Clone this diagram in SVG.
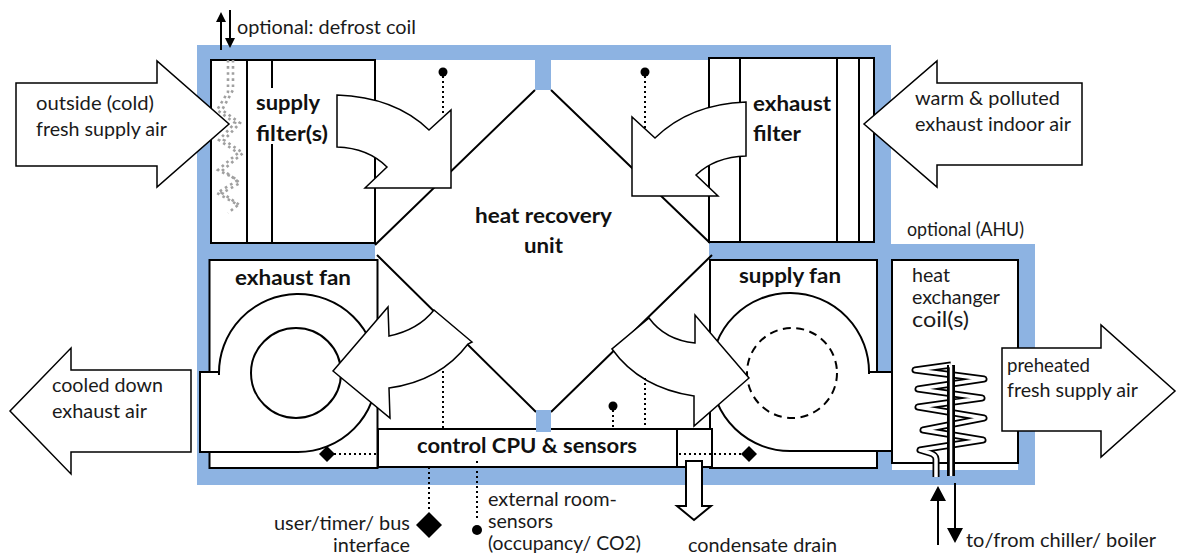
<svg xmlns="http://www.w3.org/2000/svg" width="1183" height="556" viewBox="0 0 1183 556">
<style>
.t{font-family:"Lato","Liberation Sans",sans-serif;font-size:19px;fill:#1a1a1a}
.b{font-family:"Lato","Liberation Sans",sans-serif;font-size:20px;font-weight:700;fill:#111}
.box{fill:#fff;stroke:#000;stroke-width:2}
.ln{fill:none;stroke:#000;stroke-width:2}
.arw{fill:#fff;stroke:#000;stroke-width:1.500;stroke-linejoin:miter}
.dot{fill:none;stroke:#000;stroke-width:2;stroke-dasharray:2 3}
.def{fill:none;stroke:#a0a0a0;stroke-width:2.600;stroke-dasharray:2.600 3.500}
.blue{fill:#8DB3E2}
</style>
<g id="frame">
<rect class="blue" x="197" y="45" width="694" height="440"/>
<rect class="blue" x="875" y="244" width="160" height="241"/>
<rect x="375" y="60" width="334" height="369" fill="#fff"/>
<rect class="blue" x="535" y="60" width="16" height="30"/>
</g>
<g id="supply-filter">
<rect class="box" x="211" y="60" width="164" height="183"/>
<path class="ln" d="M247,60V243M272,60V88M272,144V243"/>
</g>
<g id="exhaust-filter">
<rect class="box" x="709" y="58" width="165" height="184"/>
<path class="ln" d="M740,58V242M837,58V242M859,58V242"/>
</g>
<g id="exhaust-fan">
<rect class="box" x="209.500" y="260" width="168" height="208"/>
<path class="box" d="M219,375A79,79 0 1 1 298,452H200V372H219"/>
<circle cx="296" cy="373" r="45" class="box"/>
</g>
<g id="supply-fan">
<rect class="box" x="710" y="260" width="167" height="208"/>
<path class="box" d="M869,374A79,79 0 1 0 792,451H892V372H869"/>
<circle cx="792" cy="373" r="45" fill="none" stroke="#000" stroke-width="2" stroke-dasharray="8 5.500"/>
</g>
<g id="heat-recovery">
<path class="ln" d="M375,245L535,90M551,90L710,243M377,255L536,412M712,255L551,412"/>
</g>
<g id="control">
<path d="M378,429H712V467H378Z" class="box"/>
<path class="ln" d="M677,429V467"/>
<rect class="blue" x="536" y="410" width="15" height="22"/>
</g>
<g id="hx-coil">
<rect x="892" y="260" width="126" height="210" fill="#fff"/>
<rect x="892" y="260" width="126" height="203" fill="none" stroke="#000" stroke-width="2"/>
<g fill="none" stroke-linejoin="round" stroke-linecap="butt">
<path stroke="#000" stroke-width="7" d="M936,477V459Q936,455 930,453L920,450L983,440L923,430L984,418L918,407L982,398L918,389L984,379L915,370L951,365"/>
<path stroke="#fff" stroke-width="3.500" d="M936,477V459Q936,455 930,453L920,450L983,440L923,430L984,418L918,407L982,398L918,389L984,379L915,370L951,365"/>
<path stroke="#000" stroke-width="8" d="M951,365V476"/>
<path stroke="#fff" stroke-width="2.500" d="M949,366H951V476"/>
</g>
</g>
<g id="flow-arrows">
<path class="arw" d="M16,83H157V61L229,124L157,187V166H16Z"/>
<path class="arw" d="M1082,83H937V61L864,124L937,187V165H1082Z"/>
<path class="arw" d="M191,370H71V348L10,411L71,474V452H191Z"/>
<path class="arw" d="M1002,348H1101V325L1175,391L1101,457V431H1002Z"/>
<path class="arw" d="M337,95Q395,97 429,130L451,110V188H365L387,167Q368,148 337,147Z"/>
<path class="arw" d="M746,102Q690,104 655,138L632,117V196H718L696,175Q715,157 746,156Z"/>
<path class="arw" d="M333,371L388,307L389,336Q418,330 434,310L472,342L468,344Q440,381 389,388L390,418Z"/>
<path class="arw" d="M749,378L695,315V343Q665,340 649,318L612,349Q640,388 694,396V426Z"/>
</g>
<g id="connectors">
<path class="def" d="M228,60V92L217,110L235,123L219,140L238,153L218,170L238,180L217,193L238,205L228,213"/>
<path class="def" d="M233,60V90L222,110L240,123L224,140L243,153L223,170L240,183L222,193L241,206"/>
<path class="ln" d="M221,50V20M230,10V38"/>
<path d="M221,12L226,22H216ZM230,48L225,38H235Z"/>
<circle cx="443" cy="72" r="4.500"/><path class="dot" d="M443,76V113"/>
<circle cx="645" cy="72" r="4.500"/><path class="dot" d="M645,76V128"/>
<path class="dot" d="M443,371V429M645,378V429M613,410V429M334,454H378M679,454H742M429,467V512M477,461V520"/>
<circle cx="613" cy="406" r="4.500"/>
<path d="M327,446L335,454L327,462L319,454Z"/>
<path d="M749,446L757,454L749,462L741,454Z"/>
<path d="M429,512L442,525L429,538L416,525Z"/>
<circle cx="477" cy="530" r="5"/>
<path d="M686,461H702V506H711L694,520L677,506H686Z" fill="#fff" stroke="#000" stroke-width="2"/>
<path class="ln" d="M938,545V498M955,483V530"/>
<path d="M938,486L946,501H930ZM955,543L947,528H963Z"/>
</g>
<g id="labels">
<text class="t" x="237" y="34" textLength="179" lengthAdjust="spacingAndGlyphs">optional: defrost coil</text>
<text class="t" x="36" y="110" textLength="118" lengthAdjust="spacingAndGlyphs">outside (cold)</text>
<text class="t" x="36" y="136" textLength="131" lengthAdjust="spacingAndGlyphs">fresh supply air</text>
<text class="t" x="915" y="105" textLength="145" lengthAdjust="spacingAndGlyphs">warm &amp; polluted</text>
<text class="t" x="915" y="131" textLength="156" lengthAdjust="spacingAndGlyphs">exhaust indoor air</text>
<text class="t" x="52" y="392" textLength="111" lengthAdjust="spacingAndGlyphs">cooled down</text>
<text class="t" x="52" y="418" textLength="95" lengthAdjust="spacingAndGlyphs">exhaust air</text>
<text class="t" x="1007" y="372" textLength="83" lengthAdjust="spacingAndGlyphs">preheated</text>
<text class="t" x="1007" y="397" textLength="131" lengthAdjust="spacingAndGlyphs">fresh supply air</text>
<text class="t" x="912" y="282" textLength="38" lengthAdjust="spacingAndGlyphs">heat</text>
<text class="t" x="912" y="304" textLength="88" lengthAdjust="spacingAndGlyphs">exchanger</text>
<text class="t" x="912" y="327" style="font-size:21px" textLength="57" lengthAdjust="spacingAndGlyphs">coil(s)</text>
<text class="t" x="907" y="236" textLength="117" lengthAdjust="spacingAndGlyphs">optional (AHU)</text>
<text class="t" x="966" y="547" textLength="190" lengthAdjust="spacingAndGlyphs">to/from chiller/ boiler</text>
<text class="t" x="274" y="530" textLength="136" lengthAdjust="spacingAndGlyphs">user/timer/ bus</text>
<text class="t" x="333" y="552" textLength="77" lengthAdjust="spacingAndGlyphs">interface</text>
<text class="t" x="488" y="506" textLength="129" lengthAdjust="spacingAndGlyphs">external room-</text>
<text class="t" x="488" y="528" textLength="65" lengthAdjust="spacingAndGlyphs">sensors</text>
<text class="t" x="488" y="550" textLength="153" lengthAdjust="spacingAndGlyphs">(occupancy/ CO2)</text>
<text class="t" x="688" y="552" textLength="149" lengthAdjust="spacingAndGlyphs">condensate drain</text>
<text class="b" x="256" y="110" textLength="64" lengthAdjust="spacingAndGlyphs">supply</text>
<text class="b" x="256" y="141" textLength="72" lengthAdjust="spacingAndGlyphs">filter(s)</text>
<text class="b" x="753" y="111" textLength="78" lengthAdjust="spacingAndGlyphs">exhaust</text>
<text class="b" x="753" y="141" textLength="48" lengthAdjust="spacingAndGlyphs">filter</text>
<text class="b" x="475" y="223" textLength="137" lengthAdjust="spacingAndGlyphs">heat recovery</text>
<text class="b" x="524" y="253" textLength="39" lengthAdjust="spacingAndGlyphs">unit</text>
<text class="b" x="235" y="285" textLength="116" lengthAdjust="spacingAndGlyphs">exhaust fan</text>
<text class="b" x="739" y="283" textLength="102" lengthAdjust="spacingAndGlyphs">supply fan</text>
<text class="b" x="417" y="453" textLength="220" lengthAdjust="spacingAndGlyphs">control CPU &amp; sensors</text>
</g>
</svg>
